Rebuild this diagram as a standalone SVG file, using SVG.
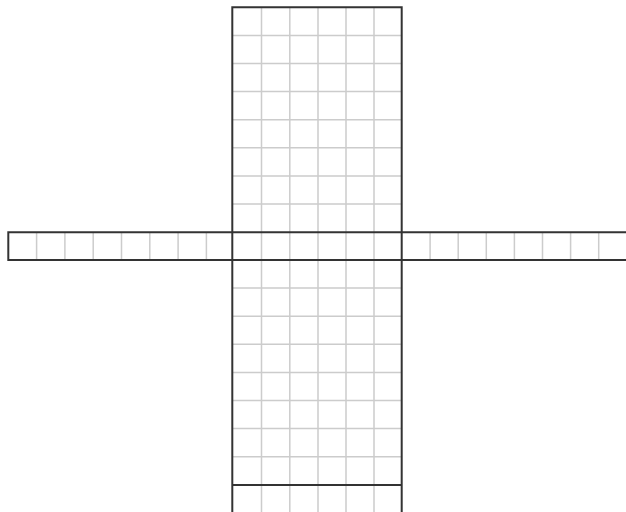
<svg xmlns="http://www.w3.org/2000/svg" width="626" height="512" viewBox="0 0 626 512">
<style>
.grid{stroke:#cccccc;stroke-width:1.5;fill:none}
.frame{stroke:#333333;stroke-width:2;fill:none}
</style>
<rect width="626" height="512" fill="#ffffff"/>
<g id="grid-lines" class="grid">
<path d="M261.5 7.3V512M289.8 7.3V512M318 7.3V512M346 7.3V512M374 7.3V512"/>
<path d="M232.3 35.4H401.7M232.3 63.5H401.7M232.3 91.6H401.7M232.3 119.7H401.7M232.3 147.8H401.7M232.3 175.9H401.7M232.3 204H401.7"/>
<path d="M232.3 288.1H401.7M232.3 316.2H401.7M232.3 344.3H401.7M232.3 372.4H401.7M232.3 400.5H401.7M232.3 428.6H401.7M232.3 456.7H401.7"/>
<path d="M36.6 232.3V260M64.9 232.3V260M93.2 232.3V260M121.5 232.3V260M149.8 232.3V260M178.1 232.3V260M206.4 232.3V260"/>
<path d="M430.1 232.3V260M458.2 232.3V260M486.3 232.3V260M514.4 232.3V260M542.5 232.3V260M570.6 232.3V260M598.7 232.3V260"/>
</g>
<g id="frame" class="frame">
<path d="M232.3 514V7.3H401.7V514"/>
<path d="M630 232.3H8.3V260H630"/>
<path d="M232.3 485H401.7"/>
</g>
</svg>
